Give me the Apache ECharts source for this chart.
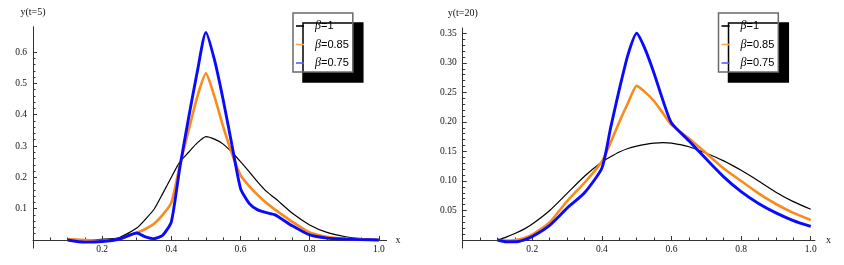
<!DOCTYPE html>
<html>
<head>
<meta charset="utf-8">
<script src="https://cdn.jsdelivr.net/npm/echarts@6/dist/echarts.min.js"></script>
<style>html,body{margin:0;padding:0;background:#fff;}#c{width:844px;height:265px;}</style>
</head>
<body>
<div id="c"></div>
<script>
// ---- data: left panel, t = 5 ----
const seriesNames = ['β=1', 'β=0.85', 'β=0.75'];
const xLeft = [0.1,0.15,0.2,0.25,0.3,0.325,0.35,0.375,0.4,0.425,0.45,0.475,0.5,0.525,0.55,0.575,0.6,0.625,0.65,0.675,0.7,0.75,0.8,0.85,0.9,0.95,1.0];
const b100Left = [0,0,0.002,0.008,0.038,0.066,0.098,0.148,0.2,0.25,0.28,0.31,0.33,0.322,0.306,0.28,0.25,0.218,0.185,0.155,0.133,0.085,0.048,0.024,0.011,0.004,0.001];
const b085Left = [0.002,0,-0.003,0.003,0.023,0.035,0.052,0.08,0.119,0.24,0.35,0.457,0.532,0.457,0.362,0.277,0.207,0.172,0.143,0.118,0.097,0.058,0.024,0.01,0.004,0.002,0];
const b075Left = [0,-0.007,-0.005,0.003,0.022,0.01,0.004,0.015,0.058,0.234,0.39,0.537,0.663,0.574,0.447,0.305,0.165,0.117,0.096,0.087,0.08,0.045,0.016,0.006,0.003,0.001,0];
// ---- data: right panel, t = 20 ----
const xRight = [0.1,0.125,0.15,0.175,0.2,0.25,0.3,0.35,0.4,0.425,0.45,0.475,0.5,0.525,0.55,0.575,0.6,0.65,0.7,0.75,0.8,0.85,0.9,0.95,1.0];
const b100Right = [0,0.005,0.011,0.018,0.027,0.05,0.079,0.108,0.132,0.141,0.149,0.155,0.159,0.162,0.164,0.165,0.164,0.158,0.147,0.134,0.118,0.1,0.081,0.065,0.052];
const b085Right = [0,-0.001,0,0.003,0.009,0.03,0.066,0.097,0.133,0.165,0.2,0.232,0.261,0.25,0.235,0.215,0.195,0.172,0.147,0.121,0.1,0.079,0.061,0.046,0.034];
const b075Right = [0,-0.003,-0.003,0,0.006,0.025,0.054,0.08,0.122,0.19,0.255,0.314,0.35,0.322,0.282,0.237,0.198,0.168,0.137,0.107,0.082,0.062,0.046,0.033,0.023];
// ---- tick labels ----
const xTicks = [0.2,0.4,0.6,0.8,1.0];
const yTicksLeft = [0.1,0.2,0.3,0.4,0.5,0.6];
const yTicksRight = [0.05,0.10,0.15,0.20,0.25,0.30,0.35];
const axisNames = {left: 'y(t=5)', right: 'y(t=20)', x: 'x'};

const colors = ['#000000', '#f98a1c', '#0a0aff'];
const legendColors = ['#000000', '#ffa452', '#5a5aff'];
const widths = [1.2, 2.6, 2.9];

function steps(from, to, step) {
  const out = [];
  for (let i = 0; from + i * step <= to + 1e-9; i++) out.push(+(from + i * step).toFixed(4));
  return out;
}
const serif = 'Liberation Serif';
const axisColor = '#333';

function makeX(gridIndex, max, yIdx, major) {
  return {
    type: 'value', gridIndex: gridIndex, min: 0, max: max, position: 'bottom',
    axisLine: {show: major, onZero: true, onZeroAxisIndex: yIdx, lineStyle: {color: axisColor, width: 1}},
    axisTick: {show: true, inside: true, length: major ? 4 : 2.5,
      customValues: major ? xTicks : steps(0.05, 1.0, 0.05), lineStyle: {color: axisColor}},
    axisLabel: major ? {show: true, customValues: xTicks, formatter: v => v.toFixed(1),
      fontFamily: serif, fontSize: 9.5, color: '#111', margin: -3.5} : {show: false},
    splitLine: {show: false},
    name: major ? axisNames.x : '', nameLocation: 'end', nameGap: gridIndex === 0 ? 9 : 11,
    nameTextStyle: {fontFamily: serif, fontSize: 10, color: '#111'}
  };
}
function makeY(gridIndex, min, max, ticks, minorStep, digits, name, major) {
  return {
    type: 'value', gridIndex: gridIndex, min: min, max: max, position: 'left',
    axisLine: {show: major, onZero: true, lineStyle: {color: axisColor, width: 1}},
    axisTick: {show: true, inside: true, length: major ? 4 : 2.5,
      customValues: major ? ticks : steps(minorStep, ticks[ticks.length - 1] + 0.5 * minorStep, minorStep),
      lineStyle: {color: axisColor}},
    axisLabel: major ? {show: true, customValues: ticks, formatter: v => v.toFixed(digits),
      fontFamily: serif, fontSize: 9.5, color: '#111', margin: 6} : {show: false},
    splitLine: {show: false},
    name: major ? name : '', nameLocation: 'end', nameGap: gridIndex === 0 ? 9 : 10,
    nameTextStyle: {fontFamily: serif, fontSize: 10, color: '#111', align: 'center'}
  };
}
function pairs(xs, ys) { return xs.map((x, i) => [x, ys[i]]); }
function makeSeries(xIdx, yIdx, xs, list) {
  return list.map((ys, k) => ({
    type: 'line', name: seriesNames[k], xAxisIndex: xIdx, yAxisIndex: yIdx,
    data: pairs(xs, ys), showSymbol: false, symbol: 'none', smooth: 0.2,
    lineStyle: {color: colors[k], width: widths[k]}, itemStyle: {color: colors[k]},
    z: 2 + k, animation: false
  }));
}
function makeLegend(left) {
  return {
    orient: 'vertical', left: left, top: 13, padding: [7, 4, 3, 3], itemGap: 6.5,
    itemWidth: 8, itemHeight: 1.6, selectedMode: false,
    backgroundColor: '#fff', borderColor: '#6a6a6a', borderWidth: 1.5,
    shadowColor: '#000', shadowBlur: 0, shadowOffsetX: 10, shadowOffsetY: 10,
    data: seriesNames.map((n, k) => ({name: n, icon: 'rect', itemStyle: {color: legendColors[k]}})),
    formatter: n => '{g|β}{t|' + n.slice(1) + '}',
    textStyle: {padding: [0, 0, 0, 6], rich: {
      g: {fontFamily: serif, fontStyle: 'italic', fontSize: 12, color: '#000'},
      t: {fontFamily: 'Liberation Sans', fontSize: 11, color: '#000'}
    }}
  };
}

const chart = echarts.init(document.getElementById('c'), null, {renderer: 'canvas'});
chart.setOption({
  animation: false,
  backgroundColor: '#fff',
  grid: [
    {left: 33, top: 26.7, width: 353.6, height: 221.4, containLabel: false},
    {left: 462.7, top: 28, width: 352.2, height: 220, containLabel: false}
  ],
  xAxis: [makeX(0, 1.0225, 0, true), makeX(0, 1.0225, 1, false), makeX(1, 1.012, 2, true), makeX(1, 1.012, 3, false)],
  yAxis: [
    makeY(0, -0.026, 0.681, yTicksLeft, 0.02, 1, axisNames.left, true),
    makeY(0, -0.026, 0.681, yTicksLeft, 0.02, 1, '', false),
    makeY(1, -0.0135, 0.359, yTicksRight, 0.01, 2, axisNames.right, true),
    makeY(1, -0.0135, 0.359, yTicksRight, 0.01, 2, '', false)
  ],
  legend: [makeLegend(293), makeLegend(718.5)],
  series: [].concat(
    makeSeries(0, 0, xLeft, [b100Left, b085Left, b075Left]),
    makeSeries(2, 2, xRight, [b100Right, b085Right, b075Right])
  )
});
</script>
</body>
</html>
